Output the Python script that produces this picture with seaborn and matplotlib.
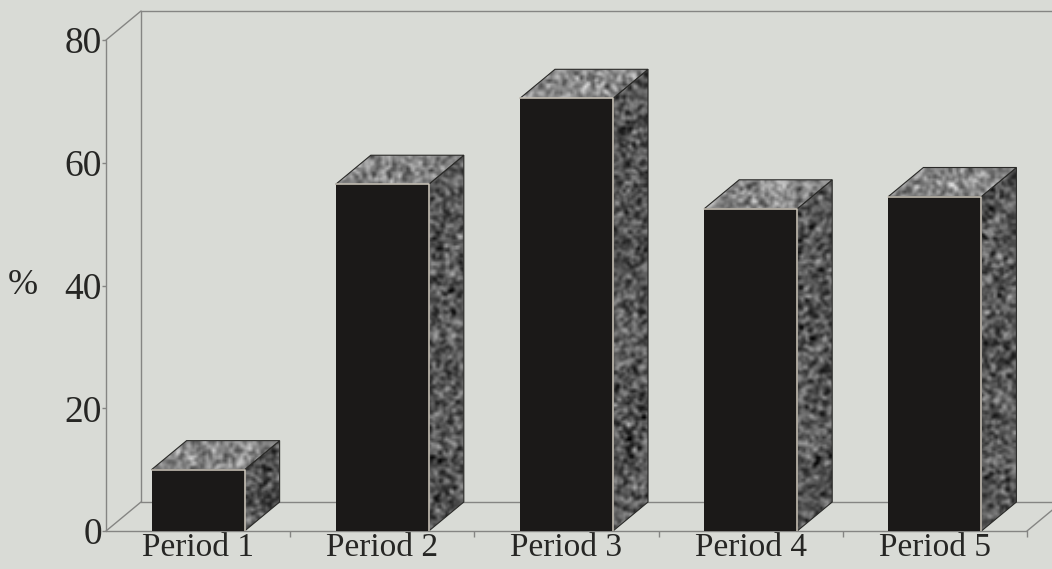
import numpy as np
import pandas as pd
import matplotlib
matplotlib.use("Agg")
import matplotlib.pyplot as plt
import seaborn as sns
from matplotlib.patches import Polygon
from matplotlib.lines import Line2D

# Data
periods = ["Period 1", "Period 2", "Period 3", "Period 4", "Period 5"]
percent = [10.0, 56.5, 70.5, 52.5, 54.5]
y_ticks = [0, 20, 40, 60, 80]

# Colours
BG = "#d9dbd6"
FRONT = "#1b1918"
TOP = 0.53      # grey level of the bar tops
SIDE = 0.34     # grey level of the bar sides
FRAME = "#858583"
TEXT = "#262624"

sns.set_theme(style="white")
plt.rcParams["font.family"] = ["Liberation Serif", "DejaVu Serif"]

W, H = 1052, 569
fig = plt.figure(figsize=(W / 100, H / 100), dpi=100, facecolor=BG)
ax = fig.add_axes([106 / W, 38 / H, 921 / W, 491 / H])
ax.set_facecolor("none")

df = pd.DataFrame({"period": periods, "percent": percent})
sns.barplot(data=df, x="period", y="percent", color=FRONT, saturation=1,
            width=0.505, edgecolor="none", linewidth=0, ax=ax, zorder=3)

ax.set_xlim(-0.5, 4.5)
ax.set_ylim(0, 80)
for s in ax.spines.values():
    s.set_visible(False)

# depth of the 3-D effect, in pixels, converted to data units
DX_PX, DY_PX = 35, 29
p0 = ax.transData.transform((0, 0))
p1 = ax.transData.transform((1, 1))
px_x = p1[0] - p0[0]
px_y = p1[1] - p0[1]
dx = DX_PX / px_x
dy = DY_PX / px_y

# frame of the 3-D box
xl, xr = -0.5, 4.5
far = xr + 1.0
frame_lines = [
    ([xl, xl], [0, 80]),                    # front vertical axis
    ([xl + dx, xl + dx], [dy, 80 + dy]),    # back vertical
    ([xl, xl + dx], [80, 80 + dy]),         # top diagonal
    ([xl + dx, far], [80 + dy, 80 + dy]),   # top back edge
    ([xl + dx, far], [dy, dy]),             # back floor edge
    ([xl, xr], [0, 0]),                     # front floor edge
    ([xl, xl + dx], [0, dy]),               # left floor diagonal
    ([xr, xr + dx], [0, dy]),               # right floor diagonal
]
for xs, ys in frame_lines:
    ax.add_line(Line2D(xs, ys, color=FRAME, lw=1.0, zorder=1, clip_on=False))

rng = np.random.default_rng(7)


def grain(level, w_px, h_px, spread=0.10, cell=2):
    shape = (max(2, int(h_px / cell)), max(2, int(w_px / cell)))
    g = rng.normal(0, 1, shape)
    k = np.array([0.25, 0.5, 0.25])
    g = np.apply_along_axis(lambda r: np.convolve(r, k, mode="same"), 1, g)
    g = np.apply_along_axis(lambda c: np.convolve(c, k, mode="same"), 0, g)
    return np.clip(level + spread * g / g.std(), 0, 1)


def textured_face(pts, level, z):
    poly = Polygon(pts, closed=True, facecolor="none", edgecolor="#2a2a28",
                   lw=0.8, zorder=z + 0.1)
    ax.add_patch(poly)
    xs, ys = zip(*pts)
    w_px = (max(xs) - min(xs)) * px_x
    h_px = (max(ys) - min(ys)) * px_y
    img = ax.imshow(grain(level, w_px, h_px), cmap="gray", vmin=0, vmax=1,
                    extent=(min(xs), max(xs), min(ys), max(ys)),
                    aspect="auto", interpolation="bilinear", zorder=z)
    img.set_clip_path(poly)


for bar in ax.patches[:len(periods)]:
    x0 = bar.get_x()
    x1 = x0 + bar.get_width()
    h = bar.get_height()
    top = [(x0, h), (x1, h), (x1 + dx, h + dy), (x0 + dx, h + dy)]
    side = [(x1, 0), (x1 + dx, dy), (x1 + dx, h + dy), (x1, h)]
    textured_face(side, SIDE, 3.2)
    textured_face(top, TOP, 3.4)
    # light highlight along the front edges
    ax.add_line(Line2D([x0, x1, x1], [h, h, 0], color="#cfc8bc", lw=1.1,
                       zorder=3.6))

ax.set_xlim(-0.5, 4.5)
ax.set_ylim(0, 80)

# ticks
ax.set_yticks(y_ticks)
ax.set_yticklabels([str(t) for t in y_ticks])
ax.set_xticks(range(len(periods)))
ax.set_xticklabels(periods)
ax.set_xticks([i + 0.5 for i in range(len(periods))], minor=True)
ax.tick_params(axis="y", which="major", left=True, length=3, width=1,
               color=FRAME, pad=0, labelsize=27, labelcolor=TEXT)
ax.tick_params(axis="x", which="major", bottom=False, length=0, pad=1,
               labelsize=24, labelcolor=TEXT)
ax.tick_params(axis="x", which="minor", bottom=True, length=4, width=1,
               color=FRAME)

ax.set_xlabel("")
ax.set_ylabel("%", rotation=0, fontsize=26, color=TEXT)
ax.yaxis.set_label_coords(-0.09, 0.5)
ax.yaxis.label.set_verticalalignment("center")

fig.savefig("out.png", dpi=100, facecolor=BG)
